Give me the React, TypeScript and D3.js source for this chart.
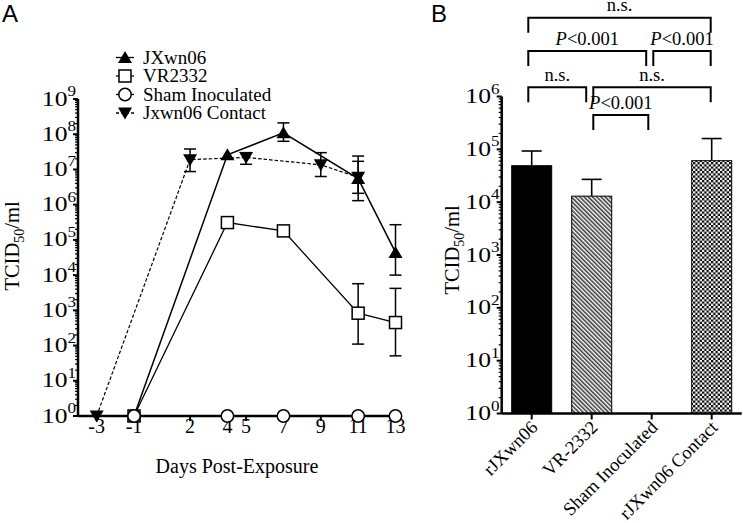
import React from 'react';
import * as d3 from 'd3';

// ---------- Panel A data ----------
const dayTicks = [-3, -1, 2, 4, 5, 7, 9, 11, 13];
const decadesA = [0, 1, 2, 3, 4, 5, 6, 7, 8, 9];

const jxDays = [-1, 4, 7, 11, 13];
const jxVals = [1, 2.6e7, 1.1e8, 5.5e6, 4.4e4];
const jxLow = [null, null, 6.3e7, 1.3e6, 1.0e4];
const jxHigh = [null, null, 2.1e8, 2.4e7, 2.7e5];

const vrDays = [-1, 4, 7, 11, 13];
const vrVals = [1, 3.1e5, 1.8e5, 830, 450];
const vrLow = [null, null, null, 110, 51];
const vrHigh = [null, null, null, 5.7e3, 4.2e3];

const shamDays = [-1, 4, 7, 11, 13];
const shamVals = [1, 1, 1, 1, 1];

const ctDays = [-3, 2, 5, 9, 11];
const ctVals = [1, 1.9e7, 2.2e7, 1.35e7, 6.0e6];
const ctLow = [null, 8.7e6, 1.4e7, 6.3e6, 2.1e6];
const ctHigh = [null, 3.8e7, 3.0e7, 3.0e7, 1.7e7];

const legendNames = ['JXwn06', 'VR2332', 'Sham Inoculated', 'Jxwn06 Contact'];

// ---------- Panel B data ----------
const barCats = ['rJXwn06', 'VR-2332', 'Sham Inoculated', 'rJXwn06 Contact'];
const barVals = [4.9e4, 1.3e4, null, 6.1e4];
const barHigh = [9.3e4, 2.7e4, null, 1.6e5];
const decadesB = [0, 1, 2, 3, 4, 5, 6];

const comparisons = [
  { a: 0, b: 3, label: 'n.s.', level: 0 },
  { a: 0, b: 2, label: 'P<0.001', level: 1 },
  { a: 2, b: 3, label: 'P<0.001', level: 1 },
  { a: 0, b: 1, label: 'n.s.', level: 2 },
  { a: 1, b: 3, label: 'n.s.', level: 2 },
  { a: 1, b: 2, label: 'P<0.001', level: 3 },
];

const SERIF = '"Liberation Serif", "Times New Roman", Times, serif';
const SANS = '"Liberation Sans", Arial, Helvetica, sans-serif';

function TriUp({ x, y }: { x: number; y: number }) {
  return <path d={`M${x},${y - 6.5} L${x + 7},${y + 5.5} L${x - 7},${y + 5.5} Z`} fill="#000" />;
}
function TriDown({ x, y }: { x: number; y: number }) {
  return <path d={`M${x},${y + 6.5} L${x + 7},${y - 5.5} L${x - 7},${y - 5.5} Z`} fill="#000" />;
}
function Sq({ x, y }: { x: number; y: number }) {
  return <rect x={x - 6} y={y - 6} width={12} height={12} fill="#fff" stroke="#000" strokeWidth={1.5} />;
}
function Circ({ x, y }: { x: number; y: number }) {
  return <circle cx={x} cy={y} r={6.2} fill="#fff" stroke="#000" strokeWidth={1.5} />;
}

function LogTicks({ scale, decades, x, minorLen, majorLen }: any) {
  const items: any[] = [];
  decades.forEach((k: number, i: number) => {
    items.push(
      <line key={`M${k}`} x1={x - majorLen} x2={x} y1={scale(Math.pow(10, k))} y2={scale(Math.pow(10, k))} stroke="#000" strokeWidth={2} />
    );
    if (i < decades.length - 1) {
      for (let m = 2; m <= 9; m++) {
        const yy = scale(m * Math.pow(10, k));
        items.push(<line key={`m${k}-${m}`} x1={x - minorLen} x2={x} y1={yy} y2={yy} stroke="#000" strokeWidth={1.2} />);
      }
    }
  });
  return <g>{items}</g>;
}

function PowLabel({ x, y, k }: { x: number; y: number; k: number }) {
  return (
    <text
      transform={`translate(${x},${y + 6.5}) scale(1.22,1)`}
      textAnchor="end"
      fontFamily={SERIF}
      fontSize={21}
      fill="#000"
    >
      10
      <tspan fontSize={14} dy={-9.5}>{k}</tspan>
    </text>
  );
}

function YLabel({ x, y }: { x: number; y: number }) {
  return (
    <text transform={`translate(${x},${y}) rotate(-90)`} textAnchor="middle" fontFamily={SERIF} fontSize={20.5} fill="#000">
      TCID
      <tspan fontSize={14} dy={5}>50</tspan>
      <tspan dy={-5}>/ml</tspan>
    </text>
  );
}

function ErrBar({ x, y0, y1, cap }: { x: number; y0: number; y1: number; cap: number }) {
  return (
    <g stroke="#000" strokeWidth={1.6}>
      <line x1={x} x2={x} y1={y0} y2={y1} />
      <line x1={x - cap / 2} x2={x + cap / 2} y1={y1} y2={y1} />
    </g>
  );
}

export default function App() {
  // Panel A scales
  const xA = d3.scaleLinear().domain([-4, 13]).range([78, 395.5]);
  const yA = d3.scaleLog().domain([1, 1e9]).range([416, 99]);
  const line = d3
    .line<[number, number]>()
    .x((d) => xA(d[0]))
    .y((d) => yA(d[1]));
  const zip = (xs: number[], vs: number[]) => xs.map((d, i) => [d, vs[i]] as [number, number]);

  // Panel B scales
  const xB = d3.scaleBand<string>().domain(barCats).range([501.7, 741.7]).paddingInner(1 / 3).paddingOuter(1 / 6);
  const yB = d3.scaleLog().domain([1, 1e6]).range([413.5, 96.5]);
  const cB = (i: number) => (xB(barCats[i]) as number) + xB.bandwidth() / 2;

  const rowY = [17.8, 51, 87.3, 115];
  const legLen = 15;
  const labelOffset = 7;

  const errA = (days: number[], vals: number[], lo: (number | null)[], hi: (number | null)[]) =>
    days.map((d, i) =>
      lo[i] != null && hi[i] != null ? (
        <g key={`e${d}`} stroke="#000" strokeWidth={1.5}>
          <line x1={xA(d)} x2={xA(d)} y1={yA(lo[i] as number)} y2={yA(hi[i] as number)} />
          <line x1={xA(d) - 6} x2={xA(d) + 6} y1={yA(lo[i] as number)} y2={yA(lo[i] as number)} />
          <line x1={xA(d) - 6} x2={xA(d) + 6} y1={yA(hi[i] as number)} y2={yA(hi[i] as number)} />
        </g>
      ) : null
    );

  const legendRowY = [57.5, 76, 94.5, 113];
  const legX = 125;

  return (
    <svg width={743} height={523} style={{ position: 'absolute', left: 0, top: 0, background: '#fff' }}>
      <defs>
        <pattern id="hatch" patternUnits="userSpaceOnUse" width={3} height={3} patternTransform="rotate(-45)">
          <rect width={3} height={3} fill="#fff" />
          <line x1={0.75} x2={0.75} y1={0} y2={3} stroke="#333" strokeWidth={1.5} />
        </pattern>
        <pattern id="checker" patternUnits="userSpaceOnUse" width={4.5} height={4.5}>
          <rect width={4.5} height={4.5} fill="#fff" />
          <rect width={2.25} height={2.25} fill="#000" />
          <rect x={2.25} y={2.25} width={2.25} height={2.25} fill="#000" />
        </pattern>
      </defs>

      {/* Panel labels */}
      <text x={2} y={22} fontFamily={SANS} fontSize={24} fill="#000">A</text>
      <text x={431} y={22} fontFamily={SANS} fontSize={24} fill="#000">B</text>

      {/* ===== Panel A ===== */}
      <LogTicks scale={yA} decades={decadesA} x={78} minorLen={3} majorLen={5} />
      <line x1={78} x2={78} y1={yA(1e9)} y2={yA(1)} stroke="#000" strokeWidth={2.5} />
      <line x1={78} x2={xA(13)} y1={yA(1)} y2={yA(1)} stroke="#000" strokeWidth={2.5} />
      {dayTicks.map((d) => (
        <g key={`xt${d}`}>
          <line x1={xA(d)} x2={xA(d)} y1={yA(1)} y2={yA(1) + 5} stroke="#000" strokeWidth={2} />
          <text x={xA(d)} y={433} textAnchor="middle" fontFamily={SERIF} fontSize={20} fill="#000">{d}</text>
        </g>
      ))}
      {decadesA.map((k) => (
        <PowLabel key={`ya${k}`} x={76} y={yA(Math.pow(10, k))} k={k} />
      ))}
      <YLabel x={19} y={246} />
      <text x={237} y={473} textAnchor="middle" fontFamily={SERIF} fontSize={20} fill="#000">Days Post-Exposure</text>

      {/* lines */}
      <path d={line(zip(ctDays, ctVals)) as string} fill="none" stroke="#000" strokeWidth={1.2} strokeDasharray="3.5,2" />
      <path d={line(zip(jxDays, jxVals)) as string} fill="none" stroke="#000" strokeWidth={1.5} />
      <path d={line(zip(vrDays, vrVals)) as string} fill="none" stroke="#000" strokeWidth={1.3} />
      <path d={line(zip(shamDays, shamVals)) as string} fill="none" stroke="#000" strokeWidth={1.5} />

      {errA(ctDays, ctVals, ctLow, ctHigh)}
      {errA(jxDays, jxVals, jxLow, jxHigh)}
      {errA(vrDays, vrVals, vrLow, vrHigh)}

      {ctDays.map((d, i) => <TriDown key={`ct${d}`} x={xA(d)} y={yA(ctVals[i])} />)}
      {jxDays.map((d, i) => <TriUp key={`jx${d}`} x={xA(d)} y={yA(jxVals[i])} />)}
      {vrDays.map((d, i) => <Sq key={`vr${d}`} x={xA(d)} y={yA(vrVals[i])} />)}
      {shamDays.map((d, i) => <Circ key={`sh${d}`} x={xA(d)} y={yA(shamVals[i])} />)}

      {/* legend */}
      {legendNames.map((name, i) => {
        const y = legendRowY[i];
        return (
          <g key={`lg${i}`}>
            <line x1={legX - 9} x2={legX + 9} y1={y} y2={y} stroke="#000" strokeWidth={1.3} strokeDasharray={i === 3 ? '3,2' : undefined} />
            {i === 0 && <TriUp x={legX} y={y} />}
            {i === 1 && <Sq x={legX} y={y} />}
            {i === 2 && <Circ x={legX} y={y} />}
            {i === 3 && <TriDown x={legX} y={y} />}
            <text x={143} y={y + 6} fontFamily={SERIF} fontSize={19} fill="#000">{name}</text>
          </g>
        );
      })}

      {/* ===== Panel B ===== */}
      {barCats.map((c, i) => {
        const v = barVals[i];
        if (v == null) return null;
        const x0 = xB(c) as number;
        const fill = i === 0 ? '#000' : i === 1 ? 'url(#hatch)' : 'url(#checker)';
        return (
          <g key={`bar${i}`}>
            <ErrBar x={cB(i)} y0={yB(v)} y1={yB(barHigh[i] as number)} cap={20} />
            <rect x={x0} y={yB(v)} width={xB.bandwidth()} height={yB(1) - yB(v)} fill={fill} stroke="#000" strokeWidth={1} />
          </g>
        );
      })}
      <LogTicks scale={yB} decades={decadesB} x={501.7} minorLen={3} majorLen={5} />
      <line x1={501.7} x2={501.7} y1={yB(1e6)} y2={yB(1)} stroke="#000" strokeWidth={2.5} />
      <line x1={501.7} x2={741.7} y1={yB(1)} y2={yB(1)} stroke="#000" strokeWidth={2.5} />
      {barCats.map((c, i) => (
        <g key={`bx${i}`}>
          <line x1={cB(i)} x2={cB(i)} y1={yB(1)} y2={yB(1) + 6} stroke="#000" strokeWidth={2} />
          <text
            transform={`translate(${cB(i) + 7},${yB(1) + 15}) rotate(-45)`}
            textAnchor="end"
            fontFamily={SERIF}
            fontSize={18.5}
            fill="#000"
          >
            {c}
          </text>
        </g>
      ))}
      {decadesB.map((k) => (
        <PowLabel key={`yb${k}`} x={499.5} y={yB(Math.pow(10, k))} k={k} />
      ))}
      <YLabel x={459} y={250} />

      {/* significance brackets */}
      {comparisons.map((cmp, i) => {
        const left = cB(cmp.a) + (cmp.a === 0 ? -3.4 : 1.6);
        const sharedStart = comparisons.some((o) => o.level === cmp.level && o.a === cmp.b && o !== cmp);
        const right = cB(cmp.b) + (cmp.b === 3 ? -1 : sharedStart ? -5.5 : -3.4);
        const y = rowY[cmp.level];
        const mid = (left + right) / 2;
        const isP = cmp.label.startsWith('P');
        return (
          <g key={`br${i}`}>
            <path d={`M${left},${y + legLen} V${y} H${right} V${y + legLen}`} fill="none" stroke="#000" strokeWidth={2} />
            <text x={mid} y={y - labelOffset + (i === 0 ? 0 : 0.5)} textAnchor="middle" fontFamily={SERIF} fontSize={18.5} fill="#000">
              {isP ? (
                <>
                  <tspan fontStyle="italic">P</tspan>
                  {cmp.label.slice(1)}
                </>
              ) : (
                cmp.label
              )}
            </text>
          </g>
        );
      })}
    </svg>
  );
}
